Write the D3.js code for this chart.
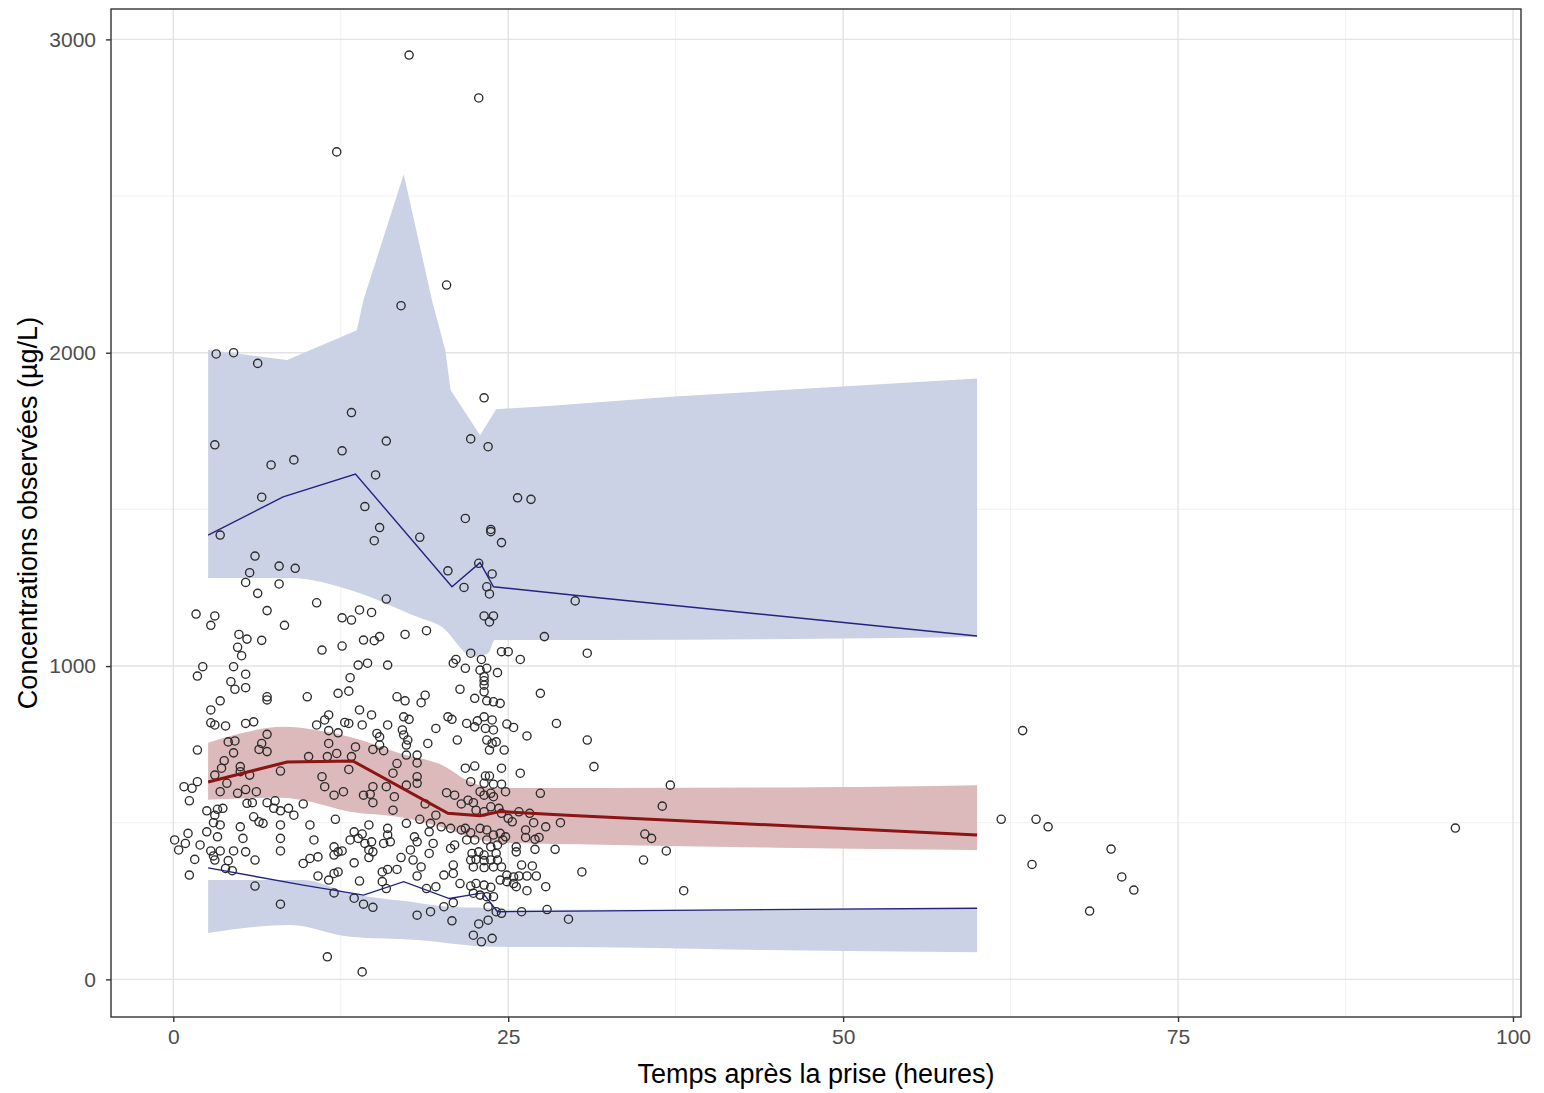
<!DOCTYPE html>
<html>
<head>
<meta charset="utf-8">
<script src="https://cdn.jsdelivr.net/npm/d3@7"></script>
<style>
  body { margin: 0; background: #fff; }
  svg text { font-family: "Liberation Sans", Arial, sans-serif; }
</style>
</head>
<body>
<svg id="chart" width="1544" height="1093"></svg>
<script>
// Axis ticks
const xTicks = [0, 25, 50, 75, 100],
      xMinor = [12.5, 37.5, 62.5, 87.5],
      yTicks = [0, 1000, 2000, 3000],
      yMinor = [500, 1500, 2500];

// Prediction intervals (time, concentration) - upper edge / lower edge of each ribbon
const hiBandTop = [[2.6,2009],[8.5,1977],[13.7,2072],[14.2,2169],[17.2,2570],[19.3,2169],[20.3,2009],[20.7,1881],[22.9,1737],[24.1,1820],[28,1830],[37.4,1860],[60,1918]],
      hiBandBot = [[2.6,1281],[8.7,1281],[13.2,1243],[18.2,1157],[20.0,1126],[22.4,1030],[23.5,1040],[24.0,1083],[31.9,1083],[60,1093]];
const medBandTop = [[2.6,755],[5,785],[8.2,806],[10.5,797],[13.2,774],[16.9,722],[20.3,679],[21.9,636],[23.9,611],[32,611],[48,613],[60,620]],
      medBandBot = [[2.6,573],[8.2,580],[9.5,573],[13.2,535],[16.9,518],[20.3,482],[22.9,445],[24.4,436],[32,430],[45,420],[60,413]];
const loBandTop = [[2.6,317],[9.7,317],[13.2,275],[18.2,245],[20.5,232],[23.5,228],[24.2,222],[42,222],[60,228]],
      loBandBot = [[2.6,148],[8.7,174],[13.2,136],[18.2,126],[23.9,104],[31.9,103],[43.8,94],[60,87]];

// Observed percentiles (95th, median, 5th)
const obsHi = [[2.6,1418],[8.2,1540],[13.6,1613],[20.8,1253],[22.9,1330],[23.9,1253],[31.9,1217],[60,1096]],
      obsMed = [[2.6,630],[8.5,694],[13.4,697],[20.5,530],[22.9,522],[24.4,536],[29.4,524],[60,461]],
      obsLo = [[2.6,356],[9.8,300],[14.2,269],[17.2,312],[20.6,258],[23.1,276],[24.2,216],[42,222],[60,227]];

// Observed concentrations [time (h), conc (ug/L)]
const obs = [
  [1.7,1166],[3.1,1160],[2.8,1130],[5.7,1298],[5.4,1267],[7.9,1262],[6.3,1232],[7.0,1177],[8.3,1130],[4.9,1101],[5.5,1086],[6.6,1082],[4.8,1060],[5.1,1033],[2.2,998],[1.8,968],[4.5,998],[5.4,974],[4.3,950],[4.6,926],[5.4,931],[7.0,902],[7.0,892],[3.5,889],[2.8,860],[2.8,819],[3.1,812],[3.9,809],[5.4,817],[6.0,822],[7.0,782],[4.1,758],[4.6,761],[6.6,753],[6.4,734],[7.0,727],[1.8,732],[4.5,723],[3.8,698],[3.6,674],[5.0,679],[5.0,663],[3.1,652],[5.7,652],[7.9,1319],[9.1,1312],[8.0,665],
  [0.8,615],[1.4,610],[1.8,631],[1.2,570],[3.5,599],[4.0,626],[4.8,594],[5.4,606],[6.2,599],[5.5,562],[5.9,564],[2.5,538],[3.3,543],[3.7,546],[3.1,524],[3.0,500],[3.5,493],[5.0,487],[6.0,519],[6.4,503],[6.7,498],[7.0,564],[7.6,570],[7.5,546],[8.0,538],[8.6,546],[9.0,524],[8.0,493],[2.5,471],[3.3,455],[5.2,450],[8.0,450],[0.1,445],[1.1,466],[0.9,434],[0.4,413],[2.0,429],[2.8,410],[3.5,410],[4.5,410],[5.4,407],[6.1,381],[8.0,410],[3.0,394],[3.1,381],[4.1,379],[1.6,383],[3.9,354],[4.4,347],[1.2,333],[6.1,298],[8.0,240],[9.7,560],[9.7,370],
  [10.7,1202],[15.9,1214],[12.6,1154],[13.3,1147],[13.9,1179],[14.8,1171],[17.3,1101],[18.9,1113],[14.2,1083],[15.0,1081],[15.4,1094],[11.1,1051],[12.6,1064],[13.8,1003],[14.5,1009],[16.0,1003],[13.2,963],[12.3,913],[13.1,920],[10.0,902],[16.7,902],[17.3,889],[18.5,883],[18.8,907],[13.9,860],[14.8,844],[11.6,844],[11.3,828],[10.7,812],[12.8,820],[13.1,817],[14.1,812],[16.0,812],[17.2,838],[17.6,830],[19.6,801],[11.6,794],[12.3,787],[15.2,785],[15.4,774],[17.1,796],[17.2,780],[17.5,764],[19.0,753],[11.6,753],[13.6,742],[14.9,734],[15.7,730],[17.4,748],[18.2,716],[10.1,711],[11.5,711],[12.2,721],[13.3,711],[16.7,689],[17.4,716],[18.2,691],[11.1,647],[13.1,670],[16.4,658],[18.2,647],[15.4,748],
  [11.3,615],[12.0,588],[12.7,599],[14.2,588],[14.7,591],[14.9,564],[14.9,615],[15.9,615],[16.5,583],[16.4,540],[12.1,511],[10.2,493],[10.5,445],[13.5,471],[13.8,450],[14.1,464],[13.2,445],[14.3,434],[14.8,439],[14.6,493],[16.0,482],[16.0,461],[15.7,434],[16.2,439],[12.0,423],[12.3,407],[12.6,410],[12.0,397],[14.6,413],[14.9,407],[14.6,389],[13.5,372],[10.8,391],[10.2,386],[10.8,330],[11.6,317],[12.0,338],[12.3,343],[13.9,314],[15.6,343],[16.0,351],[16.7,351],[15.6,312],[15.9,290],[17.0,389],[17.9,381],[18.5,359],[18.2,330],[17.4,498],[18.0,455],[18.2,439],[19.1,471],[19.4,434],[19.1,402],[17.7,413],[12.0,276],[13.5,259],[14.2,240],[14.9,230],[18.2,205],[19.2,216],[18.9,290],[19.6,296],[11.5,72],[14.1,24],[17.4,620],[18.2,626],[18.8,560],[18.4,511],[19.2,498],[19.6,524],
  [20.5,1304],[22.8,1328],[23.8,1294],[21.7,1251],[23.4,1253],[23.6,1230],[23.2,1160],[23.9,1160],[23.6,1141],[30.0,1208],[27.7,1094],[30.9,1041],[22.2,1041],[23.0,1021],[24.5,1046],[25.0,1046],[25.9,1021],[21.1,1021],[20.9,1009],[21.8,993],[22.9,987],[23.4,993],[24.2,979],[23.2,966],[23.2,953],[23.2,939],[21.4,926],[23.2,918],[27.4,913],[22.5,897],[23.4,889],[23.9,886],[24.4,881],[20.5,838],[20.8,830],[21.9,817],[22.7,825],[23.2,838],[23.8,828],[22.5,806],[23.3,801],[23.9,796],[24.9,815],[25.4,804],[26.4,777],[28.6,817],[30.9,764],[21.2,764],[23.4,764],[23.8,753],[24.1,758],[23.6,732],[24.7,732],[31.4,679],[21.8,674],[22.5,681],[24.5,674],[25.9,658],[23.3,649],[23.6,649],
  [22.2,631],[23.2,626],[23.9,623],[24.5,623],[24.8,599],[20.4,596],[21.0,588],[21.5,560],[22.0,572],[22.4,564],[22.9,599],[23.2,588],[23.7,594],[23.9,583],[22.6,540],[23.2,535],[23.7,551],[24.3,546],[24.5,530],[25.0,514],[25.3,503],[25.8,535],[26.6,530],[27.4,594],[26.9,500],[27.8,487],[28.9,500],[26.3,477],[26.3,453],[27.0,447],[27.3,453],[20.0,487],[20.7,482],[21.5,477],[21.8,482],[22.2,468],[22.9,482],[23.4,477],[23.9,461],[24.4,466],[24.8,455],[21.9,445],[22.5,445],[23.4,445],[24.6,445],[20.7,418],[21.0,429],[23.7,423],[24.2,429],[25.6,423],[25.6,407],[27.0,415],[28.5,415],[22.3,402],[22.8,407],[23.2,397],[24.1,402],[22.2,381],[22.6,383],[23.2,379],[23.7,381],[24.2,381],[20.9,365],[26.0,365],[26.8,362],[22.4,359],[23.2,357],[23.9,359],[24.5,359],[20.2,333],[20.9,338],[24.9,333],[25.4,327],[25.8,330],[26.4,330],[27.1,330],[30.5,343],[21.4,306],[22.2,298],[22.6,306],[23.2,301],[23.7,294],[24.4,317],[24.9,312],[25.4,306],[25.6,296],[26.4,283],[27.8,296],[22.4,275],[22.9,269],[23.4,264],[23.9,264],[20.9,245],[20.2,232],[23.5,232],[24.1,216],[24.5,211],[26.0,216],[27.9,223],[29.5,192],[20.8,187],[22.8,177],[23.5,189],[22.4,141],[23.0,120],[23.8,131],
  [37.1,620],[36.5,553],[35.2,464],[35.7,450],[36.8,410],[35.1,381],[38.1,283],[61.8,511],[63.4,794],[64.4,511],[64.1,367],[65.3,487],[70.0,416],[70.8,327],[71.7,285],[68.4,218],[95.7,483],
  [17.0,2150],[3.2,1996],[4.5,2000],[6.3,1966],[23.2,1856],[13.3,1809],[3.1,1706],[7.3,1642],[9.0,1658],[12.6,1687],[15.9,1718],[22.2,1725],[23.5,1700],[15.1,1610],[6.6,1539],[25.7,1537],[26.7,1532],[14.3,1509],[3.5,1418],[15.4,1442],[15.0,1400],[18.4,1411],[21.8,1471],[23.7,1436],[23.7,1429],[24.5,1394],[6.1,1351],[20.4,2216],[17.6,2950],[22.8,2813],[12.2,2641]
];

const panel = {left: 111, right: 1521, top: 9, bottom: 1017};

const x = d3.scaleLinear().domain([-4.65, 100.6]).range([panel.left, panel.right]);
const y = d3.scaleLinear().domain([-120, 3097]).range([panel.bottom, panel.top]);

const svg = d3.select('#chart');
svg.append('rect').attr('width', 1544).attr('height', 1093).attr('fill', '#fff');

const g = svg.append('g');

// grid lines (minor first, then major)
g.selectAll('.ygm').data(yMinor).enter().append('line')
  .attr('x1', panel.left).attr('x2', panel.right)
  .attr('y1', d => y(d)).attr('y2', d => y(d))
  .attr('stroke', '#efefef').attr('stroke-width', 0.9);
g.selectAll('.xgm').data(xMinor).enter().append('line')
  .attr('y1', panel.top).attr('y2', panel.bottom)
  .attr('x1', d => x(d)).attr('x2', d => x(d))
  .attr('stroke', '#efefef').attr('stroke-width', 0.9);
g.selectAll('.yg').data(yTicks).enter().append('line')
  .attr('x1', panel.left).attr('x2', panel.right)
  .attr('y1', d => y(d)).attr('y2', d => y(d))
  .attr('stroke', '#e3e3e3').attr('stroke-width', 1.4);
g.selectAll('.xg').data(xTicks).enter().append('line')
  .attr('y1', panel.top).attr('y2', panel.bottom)
  .attr('x1', d => x(d)).attr('x2', d => x(d))
  .attr('stroke', '#e3e3e3').attr('stroke-width', 1.4);

// ribbons: top edge then bottom edge reversed
const edgeSmooth = d3.line().x(d => x(d[0])).y(d => y(d[1])).curve(d3.curveMonotoneX);
const edgeSharp = d3.line().x(d => x(d[0])).y(d => y(d[1]));
function ribbon(top, bot, topEdge, botEdge) {
  const b = bot.slice().reverse();
  return topEdge(top) + 'L' + botEdge(b).slice(1) + 'Z';
}
g.append('path').attr('d', ribbon(hiBandTop, hiBandBot, edgeSharp, edgeSmooth)).attr('fill', '#cbd2e6');
g.append('path').attr('d', ribbon(loBandTop, loBandBot, edgeSmooth, edgeSmooth)).attr('fill', '#cbd2e6');
g.append('path').attr('d', ribbon(medBandTop, medBandBot, edgeSmooth, edgeSmooth)).attr('fill', '#dcb9ba');

// observed points
g.selectAll('.pt').data(obs).enter().append('circle')
  .attr('cx', d => x(d[0]))
  .attr('cy', d => y(d[1]))
  .attr('r', 4.1)
  .attr('fill', 'none')
  .attr('stroke', '#2b2b2b')
  .attr('stroke-width', 1.35);

// observed percentile lines
const ln = d3.line().x(d => x(d[0])).y(d => y(d[1]));
g.append('path').attr('d', ln(obsHi)).attr('fill', 'none').attr('stroke', '#23237e').attr('stroke-width', 1.4);
g.append('path').attr('d', ln(obsLo)).attr('fill', 'none').attr('stroke', '#23237e').attr('stroke-width', 1.4);
g.append('path').attr('d', ln(obsMed)).attr('fill', 'none').attr('stroke', '#8b1414').attr('stroke-width', 3);

// panel border
svg.append('rect')
  .attr('x', panel.left).attr('y', panel.top)
  .attr('width', panel.right - panel.left).attr('height', panel.bottom - panel.top)
  .attr('fill', 'none').attr('stroke', '#333').attr('stroke-width', 1.4);

// axes
const xAxis = svg.append('g').attr('transform', `translate(0,${panel.bottom})`)
  .call(d3.axisBottom(x).tickValues(xTicks).tickSize(5).tickPadding(7).tickFormat(d3.format('d')));
const yAxis = svg.append('g').attr('transform', `translate(${panel.left},0)`)
  .call(d3.axisLeft(y).tickValues(yTicks).tickSize(5).tickPadding(10).tickFormat(d3.format('d')));
[xAxis, yAxis].forEach(a => {
  a.select('.domain').remove();
  a.selectAll('.tick line').attr('stroke', '#333').attr('stroke-width', 1.4);
  a.selectAll('.tick text').attr('fill', '#4d4d4d').style('font-size', '21px')
    .style('font-family', '"Liberation Sans", Arial, sans-serif');
});

// axis titles
svg.append('text')
  .attr('x', (panel.left + panel.right) / 2).attr('y', 1083)
  .attr('text-anchor', 'middle').style('font-size', '27px').attr('fill', '#000')
  .text('Temps après la prise (heures)');
svg.append('text')
  .attr('transform', `translate(37,${(panel.top + panel.bottom) / 2}) rotate(-90)`)
  .attr('text-anchor', 'middle').style('font-size', '27px').attr('fill', '#000')
  .text('Concentrations observées (µg/L)');
</script>
</body>
</html>
